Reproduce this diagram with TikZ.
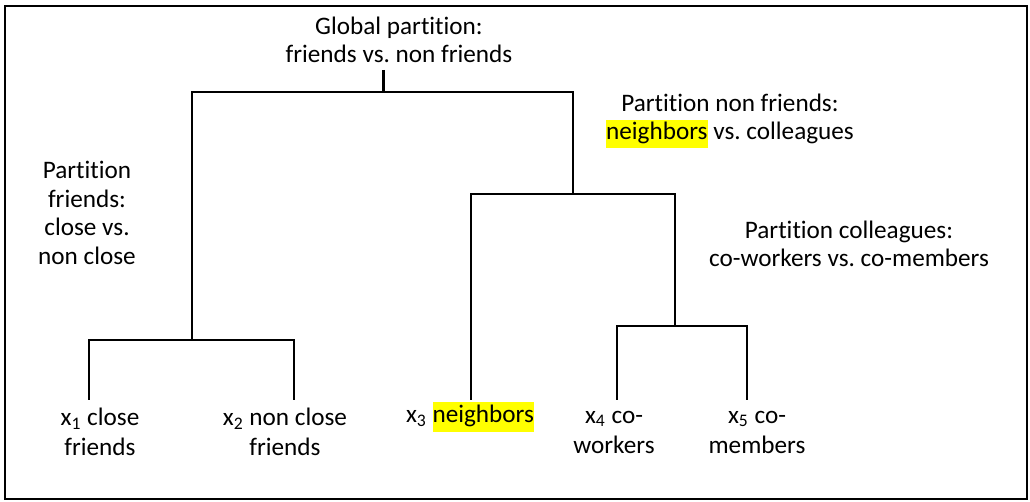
\documentclass[tikz,border=0pt]{standalone}
\usepackage{fontspec}
\setmainfont[Ligatures={NoCommon,NoRare,NoContextual}]{Carlito}
\usepackage{xcolor}
\usepackage{tikz}
\usetikzlibrary{positioning, calc}
\definecolor{markyellow}{RGB}{255, 255, 0}
\newcommand{\hlword}[1]{{\setlength{\fboxsep}{0pt}\colorbox{markyellow}{\strut #1}}}
\frenchspacing
\tikzset{
    partlabel/.style={
        align=center, inner sep=0pt, font=\fontsize{12.6pt}{14.3pt}\selectfont
    },
    leaflabel/.style={
        align=center, inner sep=0pt, font=\fontsize{12.6pt}{15pt}\selectfont
    },
    branch/.style={
        draw, line width=1pt, black
    }
}

\begin{document}
\begin{tikzpicture}[x=0.5pt, y=-0.5pt]

        % ======================================
        % KHUNG
        % ======================================
        \useasboundingbox (0,0) rectangle (1030,502);
        \draw[line width=0.75pt] (5,6) rectangle (1027,499);

        % ======================================
        % DIEM NUT CUA CAY
        % ======================================
        \coordinate (gtop) at (383,70);
        \coordinate (groot) at (383,92);
        \coordinate (fjoin) at (192,340);
        \coordinate (njoin) at (573,194);
        \coordinate (cjoin) at (675,326);
        \coordinate (leaf1) at (89,400);
        \coordinate (leaf2) at (294,400);
        \coordinate (leaf3) at (471,400);
        \coordinate (leaf4) at (617,400);
        \coordinate (leaf5) at (747,400);

        % ======================================
        % NHANH
        % ======================================
        \draw[branch, line width=1.5pt] (gtop) -- (groot);
        \draw[branch] (fjoin) |- (groot) -| (njoin);
        \draw[branch] (leaf1) |- (fjoin) -| (leaf2);
        \draw[branch] (leaf3) |- (njoin) -| (cjoin);
        \draw[branch] (leaf4) |- (cjoin) -| (leaf5);

        % ======================================
        % NHAN PHAN HOACH
        % ======================================
        \node[partlabel] (global) at (399,40) {Global partition:\\friends vs. non friends};
        \node[partlabel] (pfriends) at (87,213) {Partition\\friends:\\close vs.\\non close};
        \node[partlabel] (pnonfr) at (730,121) {Partition non friends:\\\hlword{neighbors} vs. colleagues};
        \node[partlabel] (pcoll) at (849,244) {Partition colleagues:\\co-workers vs. co-members};

        % ======================================
        % NHAN LA
        % ======================================
        \node[leaflabel] (x1) at (100,432) {x\textsubscript{1} close\\friends};
        \node[leaflabel] (x2) at (285,432) {x\textsubscript{2} non close\\friends};
        \node[leaflabel] (x3) at (470,417) {x\textsubscript{3} \hlword{neighbors}};
        \node[leaflabel] (x4) at (614,432) {x\textsubscript{4} co-\\workers};
        \node[leaflabel] (x5) at (757,432) {x\textsubscript{5} co-\\members};

\end{tikzpicture}
\end{document}
